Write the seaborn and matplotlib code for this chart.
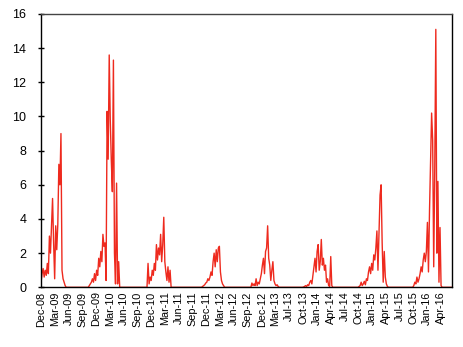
import numpy as np
import pandas as pd
import matplotlib
matplotlib.use("Agg")
import matplotlib.pyplot as plt
import matplotlib.dates as mdates
import seaborn as sns

# ---- data (weekly readings per season, zero in between) ----
season_starts = ["2008-12-18", "2009-10-29", "2010-11-18", "2011-11-24",
                 "2012-10-18", "2013-09-13", "2014-10-03", "2015-10-03"]
end_date = "2016-06-19"

season_1 = [0.3, 0.8, 1.1, 0.6, 1.0, 0.7, 1.4, 0.8, 3.0, 2.0, 3.6, 5.2, 2.6,
            0.5, 3.6, 2.2, 3.7, 7.2, 6.0, 9.0, 1.0, 0.5, 0.3, 0.1, 0.0]
season_2 = [0.0, 0.1, 0.2, 0.3, 0.5, 0.3, 0.8, 0.4, 1.0, 0.7, 1.7, 1.2, 2.1,
            1.5, 3.1, 2.4, 2.6, 0.4, 10.3, 7.5, 13.6, 9.8, 7.4, 5.6, 13.3,
            2.0, 0.2, 6.1, 0.2, 1.5, 0.0]
season_3 = [0.0, 0.0, 1.4, 0.2, 0.6, 0.4, 1.0, 0.7, 1.4, 1.0, 2.5, 1.6, 2.3,
            1.9, 3.1, 1.5, 2.5, 4.1, 1.5, 0.9, 0.4, 1.2, 0.3, 1.0, 0.0, 0.0]
season_4 = [0.0, 0.05, 0.1, 0.15, 0.25, 0.3, 0.5, 0.4, 0.6, 0.9, 0.7, 1.5,
            2.0, 1.2, 2.2, 1.5, 2.3, 2.4, 0.9, 0.4, 0.2, 0.1, 0.0, 0.0]
season_5 = [0.0, 0.25, 0.1, 0.2, 0.1, 0.5, 0.1, 0.3, 0.2, 0.5, 0.8, 1.3, 1.7,
            0.8, 2.1, 2.3, 3.6, 1.7, 1.3, 0.4, 1.0, 1.5, 0.4, 0.2, 0.1, 0.15,
            0.05, 0.0, 0.0]
season_6 = [0.0, 0.0, 0.0, 0.02, 0.05, 0.1, 0.05, 0.15, 0.1, 0.3, 0.4, 0.2,
            0.7, 1.2, 1.7, 0.9, 2.1, 2.5, 1.0, 1.5, 2.8, 1.3, 1.7, 1.0, 1.3,
            0.3, 0.5, 0.1, 0.05, 1.8, 0.1, 0.0, 0.0]
season_7 = [0.0, 0.05, 0.1, 0.3, 0.1, 0.2, 0.35, 0.15, 0.5, 0.4, 0.9, 1.2,
            0.8, 1.4, 1.0, 1.9, 1.6, 2.3, 3.3, 1.0, 3.2, 5.4, 6.0, 2.6, 0.3,
            2.1, 0.6, 0.2, 0.05, 0.0, 0.0]
season_8 = [0.0, 0.1, 0.3, 0.2, 0.6, 0.3, 0.5, 0.8, 1.2, 0.9, 1.6, 2.0, 1.5,
            2.1, 3.8, 0.9, 4.5, 7.3, 10.2, 8.6, 1.2, 7.0, 15.1, 2.0, 6.2, 0.3,
            3.5, 0.1, 0.0]
seasons = [season_1, season_2, season_3, season_4,
           season_5, season_6, season_7, season_8]

tick_labels = ["Dec-08", "Mar-09", "Jun-09", "Sep-09", "Dec-09", "Mar-10",
               "Jun-10", "Sep-10", "Dec-10", "Mar-11", "Jun-11", "Sep-11",
               "Dec-11", "Mar-12", "Jun-12", "Sep-12", "Dec-12", "Mar-13",
               "Jul-13", "Oct-13", "Jan-14", "Apr-14", "Jul-14", "Oct-14",
               "Jan-15", "Apr-15", "Jul-15", "Oct-15", "Jan-16", "Apr-16"]

frames = []
for start, vals in zip(season_starts, seasons):
    d = pd.date_range(start, periods=len(vals), freq="7D")
    frames.append(pd.DataFrame({"date": d, "value": vals}))
frames.append(pd.DataFrame({"date": [pd.Timestamp(end_date)], "value": [0.0]}))
df = pd.concat(frames, ignore_index=True)

# ---- plot ----
sns.set_theme(style="white")
plt.rcParams["font.family"] = ["Liberation Sans", "DejaVu Sans"]

fig = plt.figure(figsize=(4.63, 3.47), dpi=100)
ax = fig.add_axes([0.0886, 0.172, 0.8870, 0.7877])
sns.lineplot(data=df, x="date", y="value", ax=ax, color="#ee2a1e",
             linewidth=1.0, estimator=None)

start = pd.Timestamp(season_starts[0])
ticks = pd.date_range(start, periods=len(tick_labels), freq="92D")
ax.set_xticks(mdates.date2num(ticks))
ax.set_xticklabels(tick_labels, rotation=90)
ax.set_xlim(mdates.date2num(start), mdates.date2num(pd.Timestamp(end_date)))
ax.set_ylim(0, 16)
ax.set_yticks(np.arange(0, 17, 2))
ax.set_xlabel("")
ax.set_ylabel("")

ax.tick_params(axis="y", direction="inout", length=5, width=1, color="black",
               labelsize=9, left=True, pad=8, labelcolor="black")
ax.tick_params(axis="x", length=0, labelsize=7.8, pad=3, labelcolor="black")
for side in ["left", "bottom", "right"]:
    ax.spines[side].set_color("black")
    ax.spines[side].set_linewidth(1.0)
ax.spines["top"].set_color("#444444")
ax.spines["top"].set_linewidth(1.0)
ax.grid(False)

fig.savefig("out.png", dpi=100)
